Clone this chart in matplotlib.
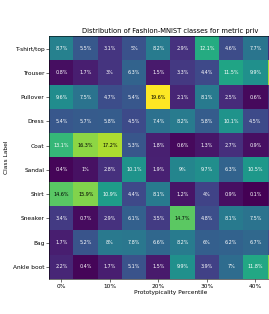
import numpy as np
import matplotlib
matplotlib.use("Agg")
import matplotlib.pyplot as plt

classes = ["T-shirt/top", "Trouser", "Pullover", "Dress", "Coat",
           "Sandal", "Shirt", "Sneaker", "Bag", "Ankle boot"]

# share (%) of each class per prototypicality bin
t_shirt = [8.7, 5.5, 3.1, 5, 8.2, 2.9, 12.1, 4.6, 7.7, 2.5]
trouser = [0.8, 1.7, 3, 6.3, 1.5, 3.3, 4.4, 11.5, 9.9, 17.0]
pullover = [9.6, 7.5, 4.7, 5.4, 19.6, 2.1, 8.1, 2.5, 0.6, 3.0]
dress = [5.4, 5.7, 5.8, 4.5, 7.4, 8.2, 5.8, 10.1, 4.5, 3.0]
coat = [13.1, 16.3, 17.2, 5.3, 1.8, 0.6, 1.3, 2.7, 0.9, 1.5]
sandal = [0.4, 1, 2.8, 10.1, 1.9, 9, 9.7, 6.3, 10.5, 9.0]
shirt = [14.6, 15.9, 10.9, 4.4, 8.1, 1.2, 4, 0.9, 0.1, 1.0]
sneaker = [3.4, 0.7, 2.9, 6.1, 3.5, 14.7, 4.8, 8.1, 7.5, 7.0]
bag = [1.7, 5.2, 8, 7.8, 6.6, 8.2, 6, 6.2, 6.7, 5.0]
ankle_boot = [2.2, 0.4, 1.7, 5.1, 1.5, 9.9, 3.9, 7, 11.8, 16.0]

xtick_labels = ["0%", "10%", "20%", "30%", "40%"]

data = np.array([t_shirt, trouser, pullover, dress, coat,
                 sandal, shirt, sneaker, bag, ankle_boot])

# last column is mostly outside the cropped figure, its labels are not shown
n_annot_cols = 9


def luminance(rgb):
    c = np.array(rgb[:3])
    c = np.where(c <= 0.03928, c / 12.92, ((c + 0.055) / 1.055) ** 2.4)
    return 0.2126 * c[0] + 0.7152 * c[1] + 0.0722 * c[2]


fig = plt.figure(figsize=(2.69, 3.14), dpi=100)
ax = fig.add_axes([0.1833, 0.1115, 0.9015, 0.7723])

cmap = plt.get_cmap("viridis")
norm = plt.Normalize(data.min(), data.max())
ax.imshow(data, cmap=cmap, norm=norm, aspect="auto", interpolation="nearest")

for i in range(data.shape[0]):
    for j in range(n_annot_cols):
        v = data[i, j]
        col = "black" if luminance(cmap(norm(v))) > 0.408 else "white"
        ax.text(j, i, f"{v:g}%", ha="center", va="center", fontsize=3.5, color=col)

ax.set_yticks(range(len(classes)))
ax.set_yticklabels(classes, fontsize=4.2)
ax.set_xticks(range(0, 2 * len(xtick_labels), 2))
ax.set_xticklabels(xtick_labels, fontsize=4.2)
ax.tick_params(length=2, width=0.4, pad=1.5)
for s in ax.spines.values():
    s.set_linewidth(0.4)

ax.set_xlabel("Prototypicality Percentile", fontsize=4.2, labelpad=1)
ax.set_ylabel("Class Label", fontsize=4.2, labelpad=3)
ax.set_title("Distribution of Fashion-MNIST classes for metric priv", fontsize=4.9, pad=2.5)

fig.savefig("out.png", dpi=100)
